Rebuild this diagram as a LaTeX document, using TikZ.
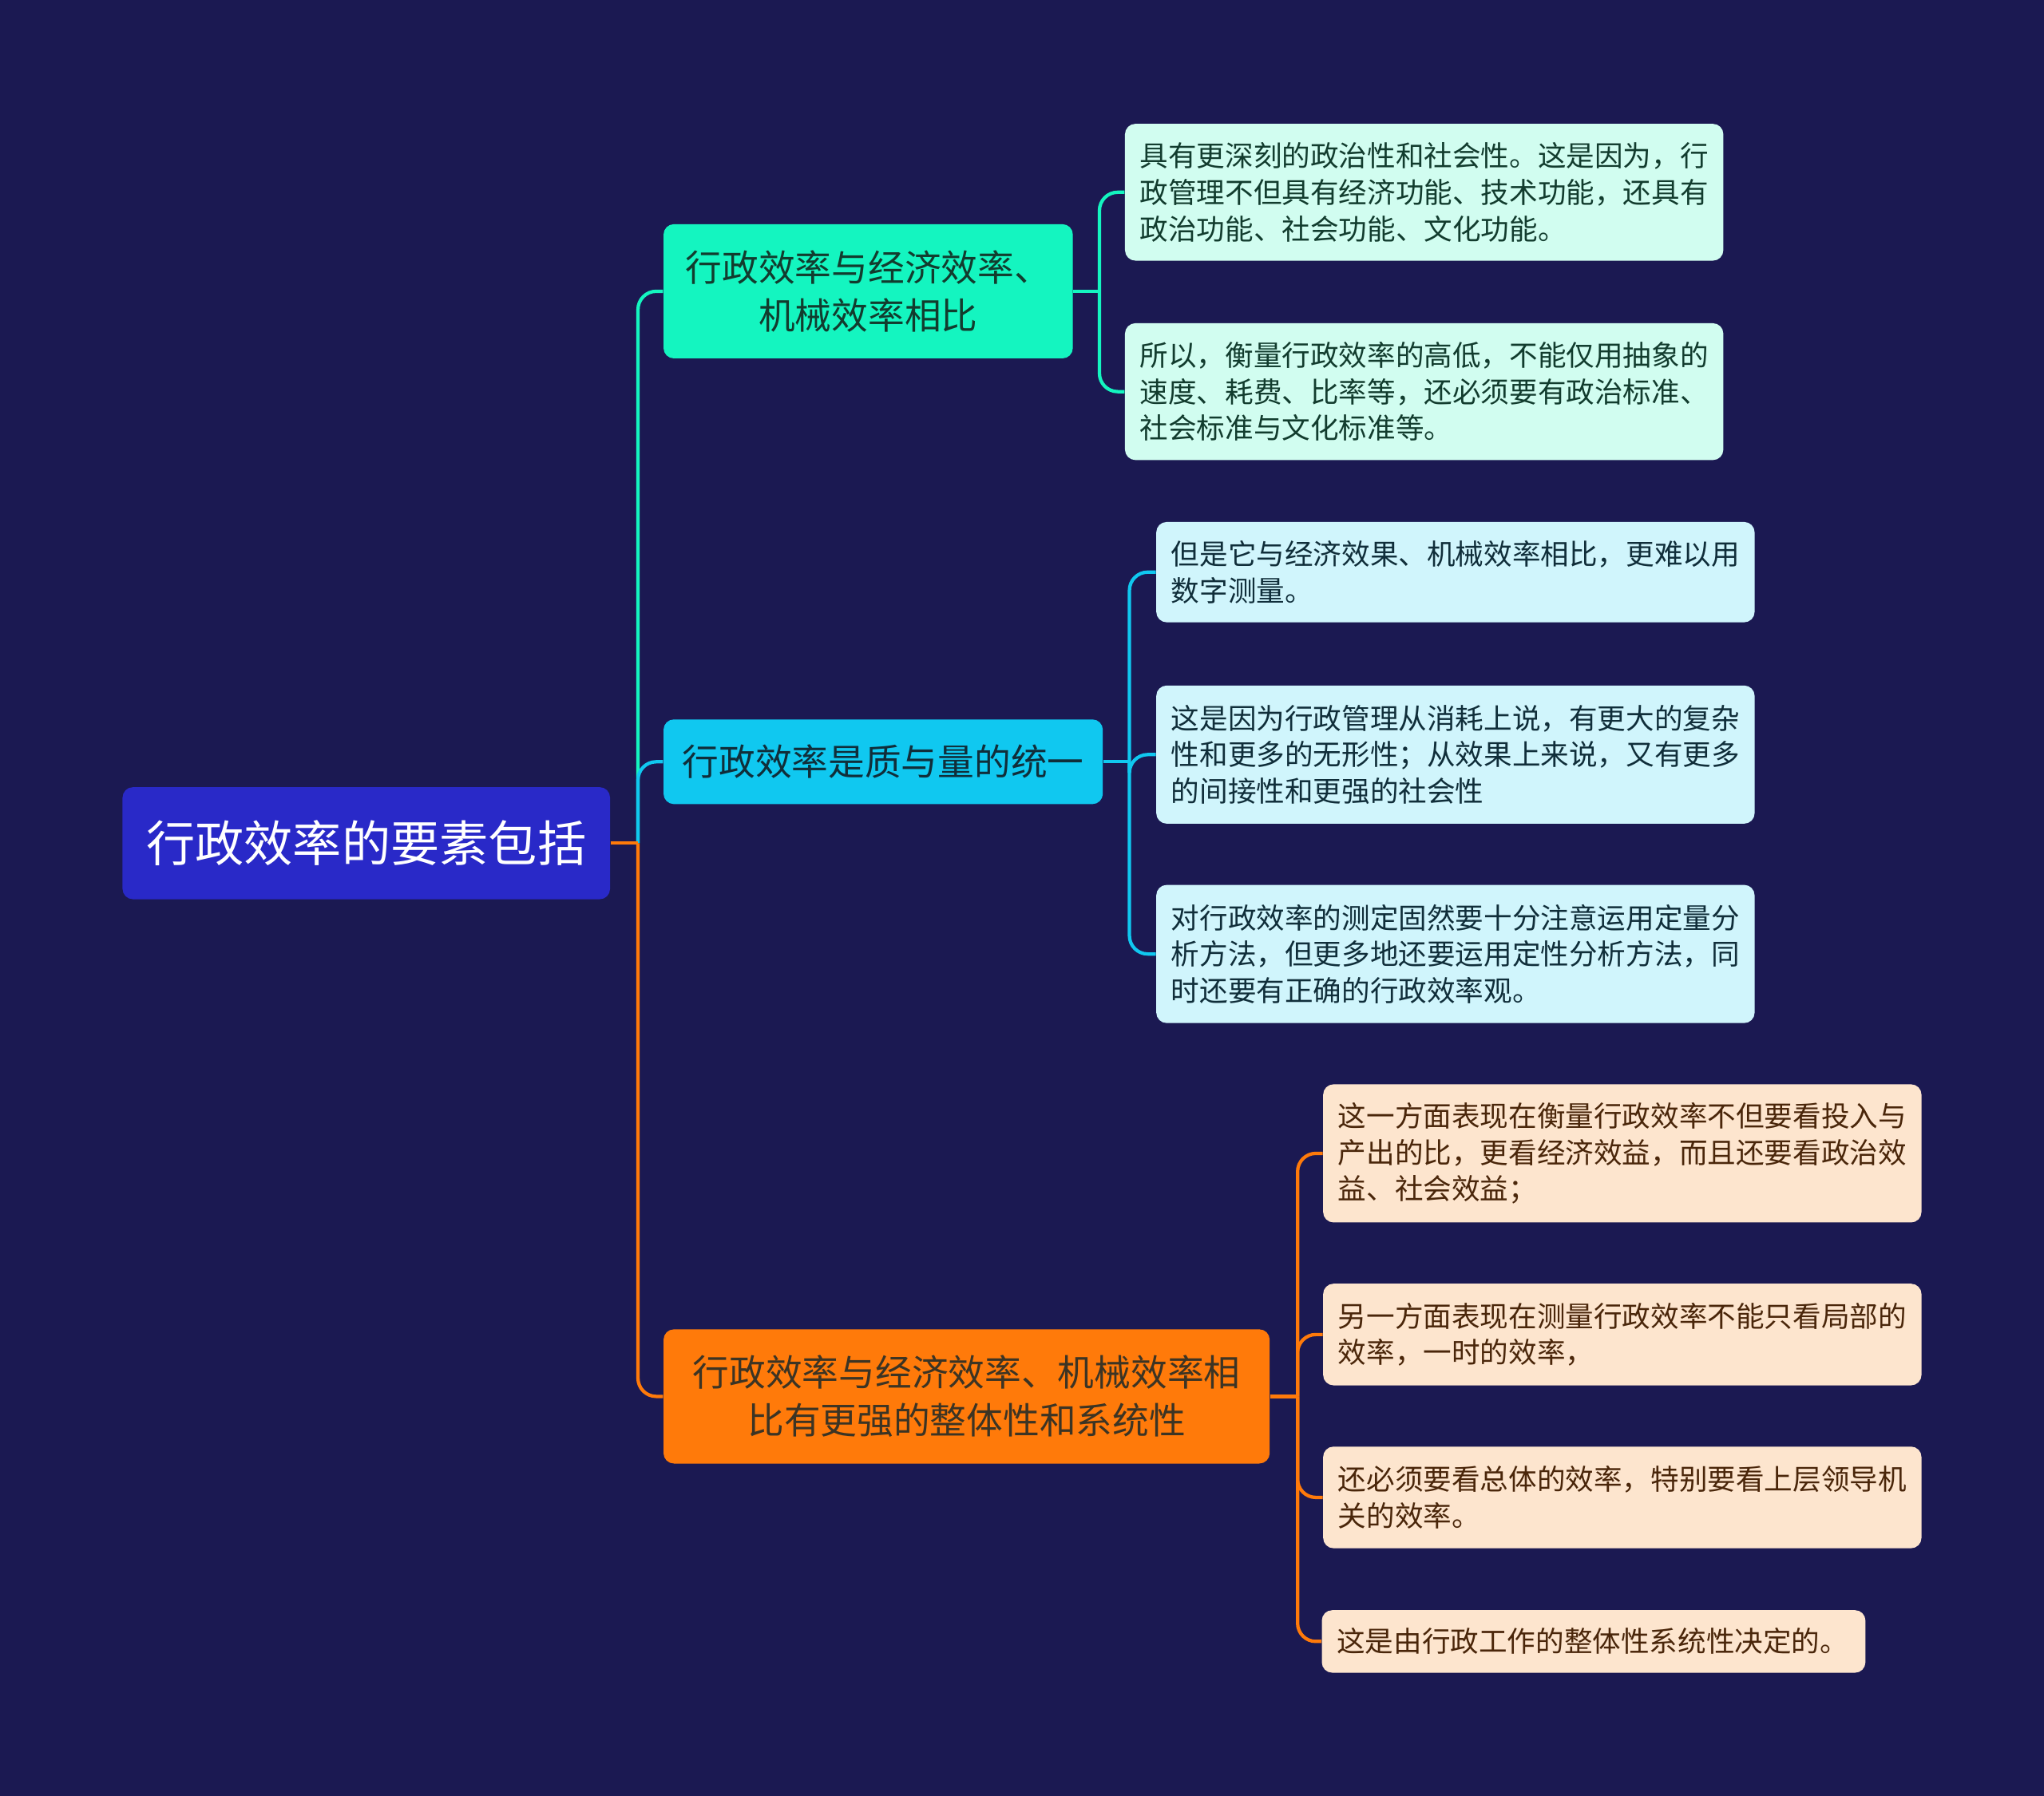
\documentclass[tikz,border=0pt]{standalone}
\usepackage{fontspec}
\setmainfont{Noto Sans CJK SC}
\usetikzlibrary{calc}

% colours
\definecolor{bgnavy}{RGB}{27,25,82}
\definecolor{rootblue}{RGB}{41,41,200}
\definecolor{aquagreen}{RGB}{20,245,192}
\definecolor{skycyan}{RGB}{16,200,240}
\definecolor{brorange}{RGB}{255,122,10}
\definecolor{mintleaf}{RGB}{209,253,240}
\definecolor{cyanleaf}{RGB}{208,245,252}
\definecolor{peachleaf}{RGB}{253,229,206}
\definecolor{greentext}{RGB}{18,60,46}
\definecolor{cyantext}{RGB}{16,46,58}
\definecolor{browntext}{RGB}{74,38,10}
\definecolor{darktext}{RGB}{60,52,36}

\tikzset{
  rootnode/.style={rounded corners=4pt, inner sep=0pt, align=center,
    fill=rootblue, text=white, minimum width=187pt, minimum height=43pt,
    font=\fontsize{18.75pt}{22pt}\selectfont},
  branchnode/.style={rounded corners=4pt, inner sep=0pt, align=center,
    minimum height=51.5pt, font=\fontsize{14pt}{18.5pt}\selectfont},
  leafnode/.style={rounded corners=4pt, inner xsep=5.75pt, inner ysep=0pt,
    text width=218pt, align=left, font=\fontsize{10.9pt}{14pt}\selectfont},
  conn/.style={line width=1.3pt, rounded corners=7pt},
}

\begin{document}
\begin{tikzpicture}[x=0.5pt,y=-0.5pt]

%--- background ---
\fill[bgnavy] (0,0) rectangle (1568,1378);
\useasboundingbox (0,0) rectangle (1568,1378);

%--- root ---
\node[rootnode] (root) at (281,647) {行政效率的要素包括};

%--- branches ---
\node[branchnode, fill=aquagreen, text=greentext, minimum width=157pt]
  (b1) at (666,223.5) {行政效率与经济效率、\\机械效率相比};
\node[branchnode, fill=skycyan, text=cyantext, minimum width=168.5pt, minimum height=32.5pt]
  (b2) at (677.5,584.5) {行政效率是质与量的统一};
\node[branchnode, fill=brorange, text=darktext, minimum width=232.5pt]
  (b3) at (741.5,1071.5) {行政效率与经济效率、机械效率相\\比有更强的整体性和系统性};

%--- leaves of b1 ---
\node[leafnode, fill=mintleaf, text=greentext, minimum height=52.5pt]
  (l1a) at (1092.5,147.5) {具有更深刻的政治性和社会性。这是因为，行\\政管理不但具有经济功能、技术功能，还具有\\政治功能、社会功能、文化功能。};
\node[leafnode, fill=mintleaf, text=greentext, minimum height=52.5pt]
  (l1b) at (1092.5,300.5) {所以，衡量行政效率的高低，不能仅用抽象的\\速度、耗费、比率等，还必须要有政治标准、\\社会标准与文化标准等。};

%--- leaves of b2 ---
\node[leafnode, fill=cyanleaf, text=cyantext, minimum height=38.5pt]
  (l2a) at (1116.5,439) {但是它与经济效果、机械效率相比，更难以用\\数字测量。};
\node[leafnode, fill=cyanleaf, text=cyantext, minimum height=53pt]
  (l2b) at (1116.5,579) {这是因为行政管理从消耗上说，有更大的复杂\\性和更多的无形性；从效果上来说，又有更多\\的间接性和更强的社会性};
\node[leafnode, fill=cyanleaf, text=cyantext, minimum height=53pt]
  (l2c) at (1116.5,732) {对行政效率的测定固然要十分注意运用定量分\\析方法，但更多地还要运用定性分析方法，同\\时还要有正确的行政效率观。};

%--- leaves of b3 ---
\node[leafnode, fill=peachleaf, text=browntext, minimum height=53pt]
  (l3a) at (1244.5,885) {这一方面表现在衡量行政效率不但要看投入与\\产出的比，更看经济效益，而且还要看政治效\\益、社会效益；};
\node[leafnode, fill=peachleaf, text=browntext, minimum height=39pt]
  (l3b) at (1244.5,1024) {另一方面表现在测量行政效率不能只看局部的\\效率，一时的效率，};
\node[leafnode, fill=peachleaf, text=browntext, minimum height=39pt]
  (l3c) at (1244.5,1149) {还必须要看总体的效率，特别要看上层领导机\\关的效率。};
\node[leafnode, fill=peachleaf, text=browntext, minimum height=24pt, text width=197pt]
  (l3d) at (1222.5,1259.5) {这是由行政工作的整体性系统性决定的。};

%--- connectors ---
\coordinate (j0) at ($(root.east)+(10.5pt,0)$);
\coordinate (j1) at ($(b1.east)+(10pt,0)$);
\coordinate (j2) at ($(b2.east)+(10pt,0)$);
\coordinate (j3) at ($(b3.east)+(10.5pt,0)$);

\draw[conn, aquagreen] (j0) |- (b1.west);
\draw[conn, skycyan] (j0) |- (b2.west);
\draw[conn, brorange] (j0) |- (b3.west);
\draw[conn, brorange] (root.east) -- (j0);

\draw[conn, aquagreen] (b1.east) -- (j1);
\draw[conn, aquagreen] (j1) |- (l1a.west);
\draw[conn, aquagreen] (j1) |- (l1b.west);

\draw[conn, skycyan] (b2.east) -- (j2);
\draw[conn, skycyan] (j2) |- (l2a.west);
\draw[conn, skycyan] (j2) |- (l2b.west);
\draw[conn, skycyan] (j2) |- (l2c.west);

\draw[conn, brorange] (b3.east) -- (j3);
\draw[conn, brorange] (j3) |- (l3a.west);
\draw[conn, brorange] (j3) |- (l3b.west);
\draw[conn, brorange] (j3) |- (l3c.west);
\draw[conn, brorange] (j3) |- (l3d.west);

\end{tikzpicture}
\end{document}
